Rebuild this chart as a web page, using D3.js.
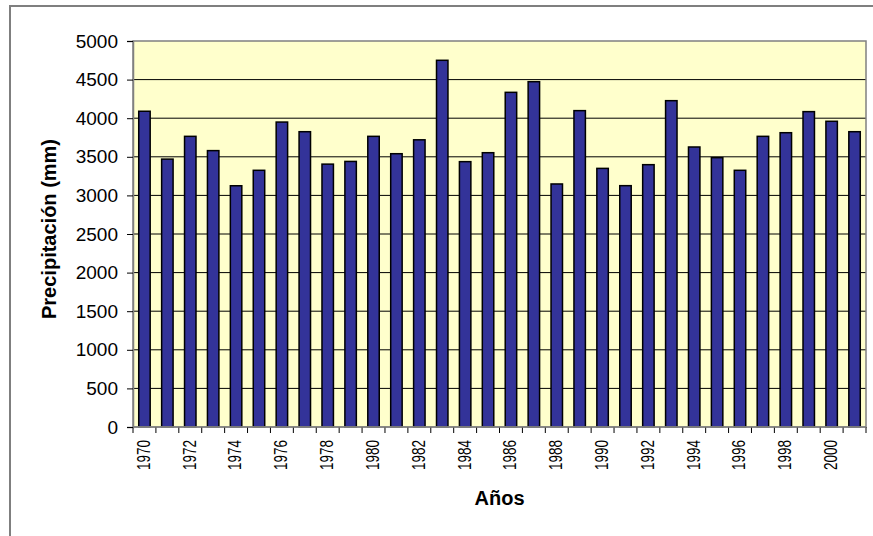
<!DOCTYPE html>
<html>
<head>
<meta charset="utf-8">
<script src="https://d3js.org/d3.v7.min.js"></script>
<style>
  body { margin: 0; background: #fff; }
  svg { display: block; font-family: Arial, "Liberation Sans", sans-serif; }
</style>
</head>
<body>
<div class="chartframe"></div>
<script>
//wrap everything in a self-executing function
(function(){

    //data
    var years = [1970, 1971, 1972, 1973, 1974, 1975, 1976, 1977, 1978, 1979,
                 1980, 1981, 1982, 1983, 1984, 1985, 1986, 1987, 1988, 1989,
                 1990, 1991, 1992, 1993, 1994, 1995, 1996, 1997, 1998, 1999,
                 2000, 2001];
    var precip = [4090, 3470, 3765, 3580, 3125, 3325, 3950, 3825, 3405, 3440,
                  3765, 3540, 3720, 4750, 3437, 3553, 4335, 4473, 3148, 4098,
                  3350, 3126, 3398, 4227, 3627, 3489, 3325, 3765, 3812, 4085,
                  3960, 3825];
    var yTicks = [0, 500, 1000, 1500, 2000, 2500, 3000, 3500, 4000, 4500, 5000];
    var xLabels = [1970, 1972, 1974, 1976, 1978, 1980, 1982, 1984, 1986, 1988,
                   1990, 1992, 1994, 1996, 1998, 2000];

    var width = 873,
        height = 536,
        left = 133,
        right = 866,
        top = 41,
        bottom = 427;

    var svg = d3.select(".chartframe")
        .append("svg")
        .attr("width", width)
        .attr("height", height);

    //outer frame of the chart (runs off the right and bottom)
    svg.append("rect")
        .attr("x", 10)
        .attr("y", 6)
        .attr("width", 900)
        .attr("height", 600)
        .attr("fill", "none")
        .attr("stroke", "#7f7f7f")
        .attr("stroke-width", 2);

    var x = d3.scaleBand()
        .domain(years)
        .range([left, right])
        .paddingInner(0.5)
        .paddingOuter(0.25);

    var y = d3.scaleLinear()
        .domain([0, 5000])
        .range([bottom, top]);

    //plot background
    svg.append("rect")
        .attr("x", left)
        .attr("y", top)
        .attr("width", right - left)
        .attr("height", bottom - top)
        .attr("fill", "#ffffcc");

    //gridlines
    svg.append("g")
        .selectAll("line")
        .data(yTicks.filter(function(d){ return d > 0 && d < 5000; }))
        .enter()
        .append("line")
        .attr("x1", left)
        .attr("x2", right)
        .attr("y1", function(d){ return y(d); })
        .attr("y2", function(d){ return y(d); })
        .attr("stroke", "#000")
        .attr("stroke-width", 1);

    //bars
    svg.append("g")
        .selectAll("rect")
        .data(years)
        .enter()
        .append("rect")
        .attr("x", function(d){ return x(d); })
        .attr("y", function(d, i){ return y(precip[i]); })
        .attr("width", x.bandwidth())
        .attr("height", function(d, i){ return y(0) - y(precip[i]); })
        .attr("fill", "#333399")
        .attr("stroke", "#000")
        .attr("stroke-width", 1.5);

    //plot border
    svg.append("rect")
        .attr("x", left)
        .attr("y", top)
        .attr("width", right - left)
        .attr("height", bottom - top)
        .attr("fill", "none")
        .attr("stroke", "#808080")
        .attr("stroke-width", 1.5);

    //y axis
    var yAxis = svg.append("g")
        .attr("transform", "translate(" + left + ",0)")
        .call(d3.axisLeft(y).tickValues(yTicks).tickFormat(d3.format("d"))
            .tickSize(6).tickPadding(9));
    yAxis.select(".domain").attr("stroke", "#808080").attr("stroke-width", 1.5);
    yAxis.selectAll(".tick line").attr("stroke", "#000");
    yAxis.selectAll(".tick text")
        .attr("fill", "#000")
        .style("font-size", "19px");

    //x axis: labels every other year, ticks at category edges
    var xAxis = svg.append("g")
        .attr("transform", "translate(0," + bottom + ")")
        .call(d3.axisBottom(x).tickValues(xLabels).tickSize(0));
    xAxis.select(".domain").remove();
    xAxis.selectAll(".tick text")
        .attr("x", 0)
        .attr("y", 0)
        .attr("dy", "0.3em")
        .attr("text-anchor", "end")
        .attr("transform", "translate(0,13) rotate(-90) scale(0.75,1)")
        .attr("fill", "#000")
        .style("font-size", "18px");

    var edges = years.map(function(d){
        return x(d) - (x.step() - x.bandwidth()) / 2;
    });
    edges.push(right);
    svg.append("g")
        .selectAll("line")
        .data(edges)
        .enter()
        .append("line")
        .attr("x1", function(d){ return d; })
        .attr("x2", function(d){ return d; })
        .attr("y1", bottom)
        .attr("y2", bottom + 6)
        .attr("stroke", "#000");

    svg.append("line")
        .attr("x1", left)
        .attr("x2", right)
        .attr("y1", bottom)
        .attr("y2", bottom)
        .attr("stroke", "#808080")
        .attr("stroke-width", 1.5);

    //axis titles
    svg.append("text")
        .attr("transform", "translate(56,229) rotate(-90)")
        .attr("text-anchor", "middle")
        .style("font-size", "20px")
        .style("font-weight", "bold")
        .text("Precipitación (mm)");

    svg.append("text")
        .attr("x", (left + right) / 2)
        .attr("y", 505)
        .attr("text-anchor", "middle")
        .style("font-size", "20px")
        .style("font-weight", "bold")
        .text("Años");

})();
</script>
</body>
</html>
